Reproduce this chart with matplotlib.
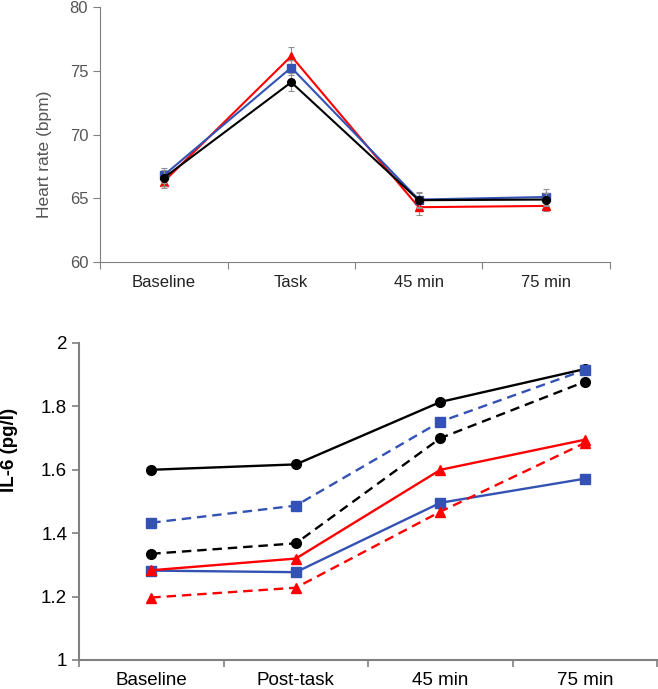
import numpy as np
import matplotlib
matplotlib.use('Agg')
import matplotlib.pyplot as plt

plt.rcParams['font.family'] = ['Liberation Sans', 'DejaVu Sans']

# heart rate panel
hr_labels = ['Baseline', 'Task', '45 min', '75 min']
hr_black = [66.6, 74.1, 64.85, 64.9]
hr_blue = [66.8, 75.25, 64.9, 65.1]
hr_red = [66.3, 76.15, 64.3, 64.4]
hr_black_err = [0.6, 0.7, 0.6, 0.5]
hr_blue_err = [0.6, 0.6, 0.6, 0.6]
hr_red_err = [0.5, 0.7, 0.6, 0.4]

# IL-6 panel
il_labels = ['Baseline', 'Post-task', '45 min', '75 min']
il_black_solid = [1.600, 1.617, 1.814, 1.918]
il_black_dash = [1.335, 1.368, 1.700, 1.878]
il_blue_solid = [1.282, 1.277, 1.496, 1.572]
il_blue_dash = [1.433, 1.487, 1.752, 1.915]
il_red_solid = [1.283, 1.320, 1.600, 1.695]
il_red_dash = [1.197, 1.228, 1.468, 1.685]

BLUE = '#3352b3'
RED = '#ff0000'
AXC = '#808080'


def style_axes(ax, ncat):
    for s in ['top', 'right']:
        ax.spines[s].set_visible(False)
    for s in ['left', 'bottom']:
        ax.spines[s].set_color(AXC)
    ax.set_xlim(0, ncat)
    ax.set_xticks(np.arange(ncat + 1))
    ax.set_xticklabels([])
    ax.set_xticks(np.arange(ncat) + 0.5, minor=True)
    ax.tick_params(axis='x', which='major', direction='out', length=5, color=AXC)
    ax.tick_params(axis='x', which='minor', length=0)
    ax.tick_params(axis='y', direction='out', length=5, color=AXC)


fig = plt.figure(figsize=(6.58, 6.89), dpi=100)

# top panel
ax1 = fig.add_axes([0.152, 0.6197, 0.775, 0.3701])
x = np.arange(len(hr_labels)) + 0.5
ekw = dict(elinewidth=0.8, capsize=2, capthick=0.8, ecolor='#909090')
ax1.errorbar(x, hr_black, yerr=hr_black_err, color='black', marker='o',
             markersize=5.5, lw=1.5, zorder=3, **ekw)
ax1.errorbar(x, hr_blue, yerr=hr_blue_err, color=BLUE, marker='s',
             markersize=5.5, lw=1.5, zorder=2, **ekw)
ax1.errorbar(x, hr_red, yerr=hr_red_err, color=RED, marker='^',
             markersize=5.5, lw=1.5, zorder=1, **ekw)
ax1.set_ylim(60, 80)
ax1.set_yticks([60, 65, 70, 75, 80])
style_axes(ax1, len(hr_labels))
ax1.set_xticklabels(hr_labels, minor=True)
ax1.tick_params(axis='x', which='minor', labelsize=12, pad=9, labelcolor='#222222')
ax1.tick_params(axis='y', labelsize=12, labelcolor='#555555')
ax1.set_ylabel('Heart rate (bpm)', fontsize=12.5, color='#555555')
ax1.yaxis.set_label_coords(-0.094, 0.424)

# bottom panel
ax2 = fig.add_axes([0.120, 0.0421, 0.879, 0.4601])
x = np.arange(len(il_labels)) + 0.5
mk = dict(markersize=7, lw=1.7)
dsh = (0, (4, 2.5))
ax2.plot(x, il_black_solid, color='black', marker='o', **mk)
ax2.plot(x, il_black_dash, color='black', marker='o', ls=dsh, **mk)
ax2.plot(x, il_blue_solid, color=BLUE, marker='s', **mk)
ax2.plot(x, il_blue_dash, color=BLUE, marker='s', ls=dsh, **mk)
ax2.plot(x, il_red_solid, color=RED, marker='^', **mk)
ax2.plot(x, il_red_dash, color=RED, marker='^', ls=dsh, **mk)
ax2.set_ylim(1, 2)
ax2.set_yticks([1, 1.2, 1.4, 1.6, 1.8, 2])
ax2.set_yticklabels(['1', '1.2', '1.4', '1.6', '1.8', '2'])
style_axes(ax2, len(il_labels))
ax2.spines['bottom'].set_linewidth(1.5)
ax2.spines['left'].set_linewidth(1.5)
ax2.set_xticklabels(il_labels, minor=True)
ax2.tick_params(axis='x', which='minor', labelsize=13.5, pad=9)
ax2.tick_params(axis='y', labelsize=13.5, width=1.2)
ax2.tick_params(axis='x', which='major', width=1.2)
ax2.set_ylabel('IL-6 (pg/l)', fontsize=13.5, fontweight='bold')
ax2.yaxis.set_label_coords(-0.105, 0.662)

fig.savefig('out.png', dpi=100)
